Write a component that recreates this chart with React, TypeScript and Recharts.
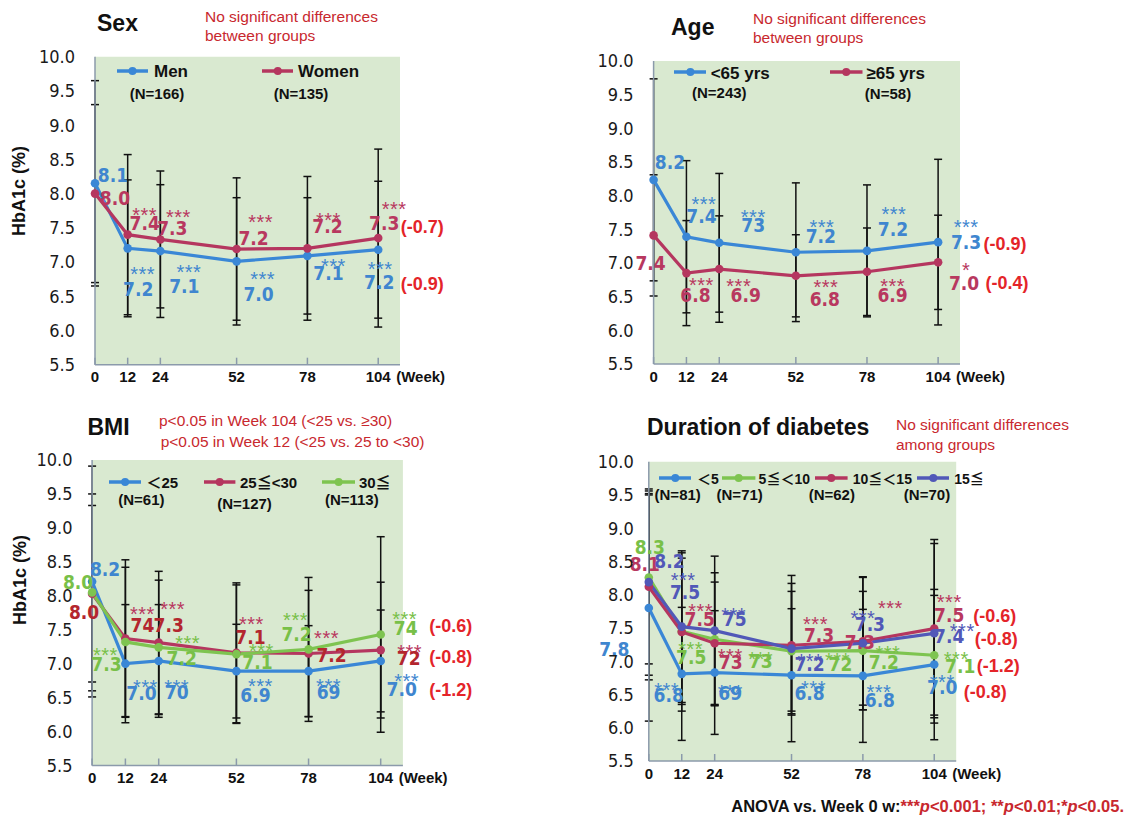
import React from 'react';
import { LineChart, Line, XAxis, YAxis, ErrorBar, ReferenceArea } from 'recharts';

// ---------------- DATA ----------------
const WEEKS = [0, 12, 24, 52, 78, 104];
const Y_TICKS = [5.5, 6.0, 6.5, 7.0, 7.5, 8.0, 8.5, 9.0, 9.5, 10.0];
const X_MAX = 112;

// Sex
const sexMenValues = [8.15, 7.2, 7.16, 7.01, 7.09, 7.18];
const sexMenSD = [1.5, 1.0, 0.97, 0.93, 0.85, 1.0];
const sexMenLabels = ['8.1', '7.2', '7.1', '7.0', '7.1', '7.2'];
const sexMenStars = ['', '***', '***', '***', '***', '***'];
const sexMenChange = '(-0.9)';
const sexWomenValues = [8.0, 7.4, 7.33, 7.19, 7.2, 7.35];
const sexWomenSD = [1.3, 1.17, 1.0, 1.04, 1.05, 1.3];
const sexWomenLabels = ['8.0', '7.4', '7.3', '7.2', '7.2', '7.3'];
const sexWomenStars = ['', '***', '***', '***', '***', '***'];
const sexWomenChange = '(-0.7)';

// Age
const ageYoungValues = [8.235, 7.39, 7.3, 7.16, 7.18, 7.31];
const ageYoungSD = [1.5, 1.13, 1.03, 1.03, 0.98, 1.23];
const ageYoungLabels = ['8.2', '7.4', '73', '7.2', '7.2', '7.3'];
const ageYoungStars = ['', '***', '***', '***', '***', '***'];
const ageYoungChange = '(-0.9)';
const ageOldValues = [7.41, 6.85, 6.91, 6.81, 6.87, 7.01];
const ageOldSD = [0.9, 0.78, 0.79, 0.61, 0.65, 0.7];
const ageOldLabels = ['7.4', '6.8', '6.9', '6.8', '6.9', '7.0'];
const ageOldStars = ['', '***', '***', '***', '***', '*'];
const ageOldChange = '(-0.4)';

// BMI
const bmiLowValues = [8.21, 7.0, 7.04, 6.89, 6.89, 7.04];
const bmiLowSD = [1.7, 0.87, 0.83, 0.69, 0.67, 0.75];
const bmiLowLabels = ['8.2', '7.0', '70', '6.9', '69', '7.0'];
const bmiLowStars = ['', '***', '***', '***', '***', '***'];
const bmiLowChange = '(-1.2)';
const bmiMidValues = [8.03, 7.37, 7.31, 7.16, 7.15, 7.2];
const bmiMidSD = [1.3, 1.16, 1.05, 1.03, 0.93, 1.0];
const bmiMidLabels = ['8.0', '74', '7.3', '7.1', '7.2', '72'];
const bmiMidStars = ['', '***', '***', '***', '***', '***'];
const bmiMidChange = '(-0.8)';
const bmiHighValues = [8.05, 7.32, 7.24, 7.14, 7.21, 7.43];
const bmiHighSD = [1.45, 1.1, 0.99, 1.02, 1.06, 1.44];
const bmiHighLabels = ['8.0', '7.3', '7.2', '7.1', '7.2', '74'];
const bmiHighStars = ['', '***', '***', '***', '***', '***'];
const bmiHighChange = '(-0.6)';

// Duration of diabetes
const durAValues = [7.8, 6.81, 6.83, 6.79, 6.78, 6.95];
const durASD = [1.7, 1.0, 0.93, 1.0, 1.0, 1.13];
const durALabels = ['7.8', '6.8', '69', '6.8', '6.8', '7.0'];
const durAStars = ['', '***', '***', '***', '***', '***'];
const durAChange = '(-0.8)';
const durBValues = [8.26, 7.45, 7.33, 7.15, 7.16, 7.09];
const durBSD = [1.3, 1.1, 1.0, 0.9, 0.89, 0.9];
const durBLabels = ['8.3', '7.5', '73', '72', '7.2', '7.1'];
const durBStars = ['', '***', '***', '***', '***', '***'];
const durBChange = '(-1.2)';
const durCValues = [8.12, 7.44, 7.27, 7.24, 7.3, 7.49];
const durCSD = [1.4, 1.19, 0.92, 1.05, 0.96, 1.34];
const durCLabels = ['8.1', '7.5', '73', '7.3', '7.3', '7.5'];
const durCStars = ['', '***', '***', '***', '***', '***'];
const durCChange = '(-0.6)';
const durDValues = [8.19, 7.52, 7.46, 7.19, 7.27, 7.42];
const durDSD = [1.4, 1.14, 1.12, 0.98, 1.0, 1.35];
const durDLabels = ['8.2', '7.5', '75', '7.2', '7.3', '7.4'];
const durDStars = ['', '***', '***', '***', '***', '***'];
const durDChange = '(-0.8)';

// ---------------- STYLE ----------------
const FONT = "'Liberation Sans', Arial, 'Noto Sans CJK JP', sans-serif";
const NARROW = "'Liberation Sans Narrow', 'Arial Narrow', 'DejaVu Sans Condensed', sans-serif";
const BG = '#d9e9d0';
const AXIS = '#8b9aab';
const BLUE = '#3a87d6';
const MAROON = '#b5365f';
const GREEN = '#7ec450';
const PURPLE = '#5158b8';
const CHANGE_RED = '#e42429';
const NOTE_RED = '#c8282e';
const VALUE_FS = 19;
const STAR_FS = 20;

// label offsets per point: [valueDx, valueDy, starDx, starDy] (text centres relative to the point)
const L_sexMen = [[18, -8, 0, 0], [10.5, 41, 15, 21], [24, 35, 28.5, 17], [22, 33, 26, 13], [21, 17, 26, 6], [1, 32, 2, 15]];
const L_sexWomen = [[20, 5, 0, 0], [17, -11, 17, -24], [12, -11, 18, -27], [17, -11, 24, -31.5], [20, -22, 21, -33], [6, -15, 16, -33]];
const L_ageYoung = [[16.4, -17.5, 0, 0], [15, -21, 17.5, -37], [34, -18, 34, -30], [25, -16, 26, -29], [26, -22, 27, -41], [28, 0.5, 28, -19]];
const L_ageOld = [[-3, 28, 0, 0], [9, 22, 15, 8], [26.5, 26, 19.5, 12.5], [29, 23, 30, 7], [25.6, 23, 25.6, 10], [26, 21, 28, 3.5]];
const L_bmiLow = [[13, -12, 0, 0], [16, 29, 20, 19], [18, 31, 18, 22], [19, 24, 24, 11], [20, 21, 20, 11], [21, 28, 26, 16]];
const L_bmiMid = [[-8, 18, 0, 0], [17, -13, 17, -28.5], [10, -17, 14, -38], [14, -16, 15, -33], [23, 2, 18, -20], [28, 8.5, 29, -2.5]];
const L_bmiHigh = [[-14, -10, 0, 0], [-19, 22, -20, 9], [23, 11, 29, -9], [21, 7.5, 25, -7.5], [-12, -15, -13, -33.5], [25, -6, 24, -20]];
const L_durA = [[-34.5, 41, 0, 0], [-13, 21, -15, 12], [15.6, 21, 15.6, 15], [18, 18, 22, 9], [17, 24, 16, 12], [8, 23, 8, 13]];
const L_durB = [[1, -30, 0, 0], [9.5, 26, 9, 13], [46, 22, 46, 16], [49, 13, 46, 5], [21, 12, 25, -2], [26, 11, 22, 0]];
const L_durC = [[-4, -23, 0, 0], [18, -13, 19, -25], [16, 18.5, 15.6, 8.5], [27.5, -10, 24, -25], [-3, 0.5, 27.5, -37.5], [15, -13, 15, -31]];
const L_durD = [[20.6, -21, 0, 0], [3.3, -34, 1.5, -51], [20, -11, 19, -20], [18, 16, 18.5, 8.5], [7, -19, 0, -29], [15, 3, 28, -6]];

type Series = {
  key: string;
  values: number[];
  sd: number[];
  labels: string[];
  stars: string[];
  change: string;
  color: string;
  valueColor: string;
  starColor: string;
  layout: number[][];
  changeOffset: [number, number];
};

type Panel = {
  box: { x: number; y: number; w: number; h: number };
  plot: { x: number; y: number; w: number; h: number };
  tickGap: number;
  series: Series[];
};

const mk = (
  key: string, values: number[], sd: number[], labels: string[], stars: string[], change: string,
  color: string, valueColor: string, starColor: string, layout: number[][], changeOffset: [number, number]
): Series => ({ key, values, sd, labels, stars, change, color, valueColor, starColor, layout, changeOffset });

const PANELS: Panel[] = [
  {
    box: { x: 0, y: 0, w: 560, h: 400 },
    plot: { x: 95, y: 56.7, w: 305, h: 308 },
    tickGap: 20,
    series: [
      mk('men', sexMenValues, sexMenSD, sexMenLabels, sexMenStars, sexMenChange, BLUE, '#3f86cf', '#3f86cf', L_sexMen, [44, 34]),
      mk('women', sexWomenValues, sexWomenSD, sexWomenLabels, sexWomenStars, sexWomenChange, MAROON, '#b8385f', '#b8385f', L_sexWomen, [44, -12]),
    ],
  },
  {
    box: { x: 560, y: 0, w: 568, h: 400 },
    plot: { x: 653.6, y: 61, w: 306.4, h: 303 },
    tickGap: 20,
    series: [
      mk('young', ageYoungValues, ageYoungSD, ageYoungLabels, ageYoungStars, ageYoungChange, BLUE, '#3f86cf', '#3f86cf', L_ageYoung, [67, 1.5]),
      mk('old', ageOldValues, ageOldSD, ageOldLabels, ageOldStars, ageOldChange, MAROON, '#b8385f', '#b8385f', L_ageOld, [69, 20]),
    ],
  },
  {
    box: { x: 0, y: 400, w: 560, h: 400 },
    plot: { x: 92.1, y: 460, w: 310.8, h: 305.5 },
    tickGap: 19.6,
    series: [
      mk('low', bmiLowValues, bmiLowSD, bmiLowLabels, bmiLowStars, bmiLowChange, BLUE, '#3f86cf', '#3f86cf', L_bmiLow, [70, 29]),
      mk('mid', bmiMidValues, bmiMidSD, bmiMidLabels, bmiMidStars, bmiMidChange, MAROON, '#b3262e', '#b8385f', L_bmiMid, [70, 6]),
      mk('high', bmiHighValues, bmiHighSD, bmiHighLabels, bmiHighStars, bmiHighChange, GREEN, '#78c048', '#78c048', L_bmiHigh, [70, -8.5]),
    ],
  },
  {
    box: { x: 560, y: 400, w: 568, h: 400 },
    plot: { x: 648.8, y: 461.7, w: 307.4, h: 299.3 },
    tickGap: 15,
    series: [
      mk('a', durAValues, durASD, durALabels, durAStars, durAChange, BLUE, '#3f86cf', '#3f86cf', L_durA, [51, 27]),
      mk('b', durBValues, durBSD, durBLabels, durBStars, durBChange, GREEN, '#78c048', '#78c048', L_durB, [64, 10]),
      mk('c', durCValues, durCSD, durCLabels, durCStars, durCChange, MAROON, '#b8385f', '#b8385f', L_durC, [60.5, -12.7]),
      mk('d', durDValues, durDSD, durDLabels, durDStars, durDChange, PURPLE, PURPLE, PURPLE, L_durD, [62, 5]),
    ],
  },
];

const YW = 60;
const XH = 30;

const XTick = (props: any) => {
  const { x, y, payload } = props;
  return (
    <g>
      <line x1={x} x2={x} y1={y} y2={y - 7} stroke={AXIS} strokeWidth={1.5} />
      <text x={x} y={y + 17.5} textAnchor="middle" fontSize={15} fontWeight="bold" fill="#111" fontFamily={FONT}>
        {payload.value}
      </text>
      {payload.value === 104 && (
        <text x={x + 18} y={y + 17.5} textAnchor="start" fontSize={15} fontWeight="bold" fill="#111" fontFamily={FONT}>
          (Week)
        </text>
      )}
    </g>
  );
};

const makeDot = (s: Series) => (p: any) => {
  const { cx, cy, index } = p;
  const L = s.layout[index] || [0, 0, 0, 0];
  const last = index === s.values.length - 1;
  return (
    <g key={`${s.key}-dot-${index}`}>
      <circle cx={cx} cy={cy} r={4.3} fill={s.color} />
      {s.stars[index] ? (
        <text x={cx + L[2]} y={cy + L[3] + STAR_FS * 0.56} textAnchor="middle" fontSize={STAR_FS} fill={s.starColor}
          fontFamily={FONT} letterSpacing={0.5}>
          {s.stars[index]}
        </text>
      ) : null}
      <text x={cx + L[0]} y={cy + L[1] + VALUE_FS * 0.36} textAnchor="middle" fontSize={VALUE_FS} fontWeight="bold"
        fill={s.valueColor} fontFamily={NARROW}>
        {s.labels[index]}
      </text>
      {last ? (
        <text x={cx + s.changeOffset[0]} y={cy + s.changeOffset[1] + 18 * 0.36} textAnchor="middle" fontSize={18}
          fontWeight="bold" fill={CHANGE_RED} fontFamily={FONT}>
          {s.change}
        </text>
      ) : null}
    </g>
  );
};

const PanelChart = ({ P }: { P: Panel }) => {
  const rows = WEEKS.map((w, i) => {
    const r: any = { week: w };
    P.series.forEach((s) => {
      r[s.key] = s.values[i];
      r[s.key + 'SD'] = s.sd[i];
    });
    return r;
  });
  const margin = {
    top: P.plot.y - P.box.y,
    left: P.plot.x - P.box.x - YW,
    right: P.box.x + P.box.w - (P.plot.x + P.plot.w),
    bottom: P.box.y + P.box.h - (P.plot.y + P.plot.h) - XH,
  };
  return (
    <div style={{ position: 'absolute', left: P.box.x, top: P.box.y }}>
      <LineChart width={P.box.w} height={P.box.h} data={rows} margin={margin}>
        <ReferenceArea x1={0} x2={X_MAX} y1={5.5} y2={10} fill={BG} fillOpacity={1} stroke="none" ifOverflow="visible" />
        <XAxis type="number" dataKey="week" domain={[0, X_MAX]} ticks={WEEKS} interval={0} height={XH}
          axisLine={{ stroke: AXIS, strokeWidth: 1.5 }} tickLine={false} tickSize={0} tickMargin={0}
          tick={(tp: any) => <XTick {...tp} />} />
        <YAxis type="number" domain={[5.5, 10]} ticks={Y_TICKS} interval={0} width={YW}
          axisLine={{ stroke: AXIS, strokeWidth: 1.5 }} tickLine={false} tickSize={0} tickMargin={P.tickGap}
          tick={{ fontSize: 18, fill: '#1a1a1a', fontFamily: NARROW }}
          tickFormatter={(v: number) => v.toFixed(1)} />
        {P.series.map((s) => (
          <Line key={s.key} type="linear" dataKey={s.key} stroke={s.color} strokeWidth={3.2}
            dot={makeDot(s)} activeDot={false} isAnimationActive={false}>
            <ErrorBar dataKey={s.key + 'SD'} width={4} stroke="#111" strokeWidth={1.5} direction="y" isAnimationActive={false} />
          </Line>
        ))}
      </LineChart>
    </div>
  );
};

const Txt = ({ x, y, children, size = 15, bold = false, color = '#111', anchor = 'start' }: any) => (
  <div style={{
    position: 'absolute', left: x, top: y,
    transform: `translate(${anchor === 'middle' ? '-50%' : anchor === 'end' ? '-100%' : '0'}, -50%)`,
    fontSize: size, fontWeight: bold ? 700 : 400, color, whiteSpace: 'nowrap', lineHeight: 1, fontFamily: FONT,
  }}>{children}</div>
);

const Marker = ({ x1, x2, y, color }: any) => (
  <svg style={{ position: 'absolute', left: x1, top: y - 6 }} width={x2 - x1} height={12}>
    <line x1={0} x2={x2 - x1} y1={6} y2={6} stroke={color} strokeWidth={3.5} />
    <circle cx={(x2 - x1) / 2} cy={6} r={4} fill={color} />
  </svg>
);

const YLabel = ({ x, y }: any) => (
  <div style={{
    position: 'absolute', left: x, top: y, transform: 'translate(-50%, -50%) rotate(-90deg)',
    fontSize: 18, fontWeight: 700, color: '#111', whiteSpace: 'nowrap', lineHeight: 1, fontFamily: FONT,
  }}>HbA1c (%)</div>
);

export default function App() {
  return (
    <div style={{ position: 'absolute', left: 0, top: 0, width: 1128, height: 821, background: '#fff', overflow: 'hidden', fontFamily: FONT }}>
      {PANELS.map((P, i) => <PanelChart key={i} P={P} />)}

      {/* Sex */}
      <Txt x={97} y={23} size={23} bold>Sex</Txt>
      <Txt x={205} y={17} size={15.5} color={NOTE_RED}>No significant differences</Txt>
      <Txt x={205} y={36} size={15.5} color={NOTE_RED}>between groups</Txt>
      <Marker x1={117} x2={148} y={70.7} color={BLUE} />
      <Txt x={154} y={71} size={17} bold>Men</Txt>
      <Txt x={157} y={93} size={15} bold anchor="middle">(N=166)</Txt>
      <Marker x1={261.7} x2={293.3} y={71} color={MAROON} />
      <Txt x={298} y={71} size={17} bold>Women</Txt>
      <Txt x={301} y={93} size={15} bold anchor="middle">(N=135)</Txt>
      <YLabel x={19} y={191} />

      {/* Age */}
      <Txt x={671} y={27} size={23} bold>Age</Txt>
      <Txt x={753} y={19.3} size={15.5} color={NOTE_RED}>No significant differences</Txt>
      <Txt x={753} y={38.3} size={15.5} color={NOTE_RED}>between groups</Txt>
      <Marker x1={673.6} x2={706.4} y={72.3} color={BLUE} />
      <Txt x={710.7} y={72.5} size={17} bold>&lt;65 yrs</Txt>
      <Txt x={719.3} y={92} size={15} bold anchor="middle">(N=243)</Txt>
      <Marker x1={830.4} x2={862.9} y={72.3} color={MAROON} />
      <Txt x={866.4} y={72.5} size={17} bold>≥65 yrs</Txt>
      <Txt x={888} y={93} size={15} bold anchor="middle">(N=58)</Txt>

      {/* BMI */}
      <Txt x={87.5} y={427.3} size={23} bold>BMI</Txt>
      <Txt x={159} y={420.7} size={15.5} color={NOTE_RED}>p&lt;0.05 in Week 104 (&lt;25 vs. ≥30)</Txt>
      <Txt x={160.7} y={441.7} size={15.5} color={NOTE_RED}>p&lt;0.05 in Week 12 (&lt;25 vs. 25 to &lt;30)</Txt>
      <Marker x1={108.9} x2={141.1} y={481.7} color={BLUE} />
      <Txt x={146.4} y={482} size={15} bold>＜25</Txt>
      <Txt x={141.4} y={499.3} size={15} bold anchor="middle">(N=61)</Txt>
      <Marker x1={204.3} x2={235.7} y={481.7} color={MAROON} />
      <Txt x={240} y={482} size={15} bold>25≦&lt;30</Txt>
      <Txt x={244.5} y={503.3} size={15} bold anchor="middle">(N=127)</Txt>
      <Marker x1={322.1} x2={355.4} y={481.7} color={GREEN} />
      <Txt x={358.9} y={482} size={15} bold>30≦</Txt>
      <Txt x={351.8} y={499} size={15} bold anchor="middle">(N=113)</Txt>
      <YLabel x={19.6} y={580} />

      {/* Duration */}
      <Txt x={647} y={426.7} size={23} bold>Duration of diabetes</Txt>
      <Txt x={896} y={425} size={15.5} color={NOTE_RED}>No significant differences</Txt>
      <Txt x={896} y={445} size={15.5} color={NOTE_RED}>among groups</Txt>
      <Marker x1={658.6} x2={691.2} y={478.3} color={BLUE} />
      <Txt x={697} y={478.5} size={14} bold>＜5</Txt>
      <Marker x1={722.3} x2={755.7} y={478.3} color={GREEN} />
      <Txt x={758.6} y={478.5} size={14} bold>5≦＜10</Txt>
      <Marker x1={815.4} x2={848} y={478.3} color={MAROON} />
      <Txt x={852.8} y={478.5} size={14} bold>10≦＜15</Txt>
      <Marker x1={916.9} x2={949.5} y={478.3} color={PURPLE} />
      <Txt x={954.2} y={478.5} size={14} bold>15≦</Txt>
      <Txt x={677.7} y={494.3} size={15} bold anchor="middle">(N=81)</Txt>
      <Txt x={739.7} y={494.3} size={15} bold anchor="middle">(N=71)</Txt>
      <Txt x={831.8} y={494.3} size={15} bold anchor="middle">(N=62)</Txt>
      <Txt x={927} y={494.3} size={15} bold anchor="middle">(N=70)</Txt>

      {/* Footer */}
      <Txt x={1124} y={806} size={16.5} bold anchor="end">
        <span style={{ color: '#111' }}>ANOVA vs. Week 0 w:</span>
        <span style={{ color: NOTE_RED }}>***<i>p</i>&lt;0.001; **<i>p</i>&lt;0.01;*<i>p</i>&lt;0.05.</span>
      </Txt>
    </div>
  );
}
